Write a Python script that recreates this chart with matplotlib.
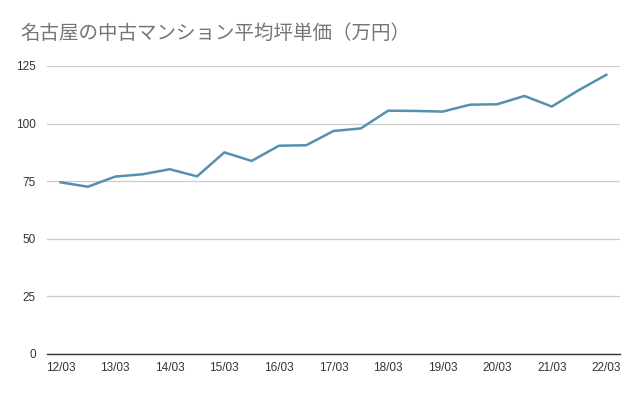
import matplotlib
matplotlib.use("Agg")
import matplotlib.pyplot as plt

title = "名古屋の中古マンション平均坪単価（万円）"
periods = ["12/03", "12/09", "13/03", "13/09", "14/03", "14/09", "15/03", "15/09",
           "16/03", "16/09", "17/03", "17/09", "18/03", "18/09", "19/03", "19/09",
           "20/03", "20/09", "21/03", "21/09", "22/03"]
values = [74.5, 72.6, 77.0, 78.0, 80.2, 77.1, 87.5, 83.8, 90.4, 90.6, 96.8,
          97.9, 105.6, 105.5, 105.2, 108.2, 108.4, 112.0, 107.4, 114.6, 121.2]
yticks = [0, 25, 50, 75, 100, 125]

fig = plt.figure(figsize=(6.4, 3.96), dpi=100)
ax = fig.add_axes([47/640, 42/396, (620-47)/640, (354-66)/396])

x = list(range(len(values)))
ax.plot(x, values, color="#5590b0", linewidth=1.8)

ax.set_xlim(-0.5, len(values) - 0.5)
ax.set_ylim(0, 125)
ax.set_yticks(yticks)
ax.set_yticklabels([str(t) for t in yticks], fontsize=8.5, color="#333333",
                   family="Liberation Sans")
ax.set_xticks(x[::2])
ax.set_xticklabels(periods[::2], fontsize=8.5, color="#333333", family="Liberation Sans")
ax.tick_params(axis="both", length=0)
ax.tick_params(axis="y", pad=8)
ax.tick_params(axis="x", pad=6)

ax.grid(axis="y", color="#cccccc", linewidth=0.9)
ax.set_axisbelow(True)
for s in ["top", "right", "left"]:
    ax.spines[s].set_visible(False)
ax.spines["bottom"].set_color("#333333")
ax.spines["bottom"].set_linewidth(1.0)

fig.text(20/640, 1 - 33/396, title, fontsize=14, color="#757575",
         family=["Noto Sans CJK JP", "DejaVu Sans"], va="center", ha="left")

fig.savefig("out.png", dpi=100, facecolor="white")
